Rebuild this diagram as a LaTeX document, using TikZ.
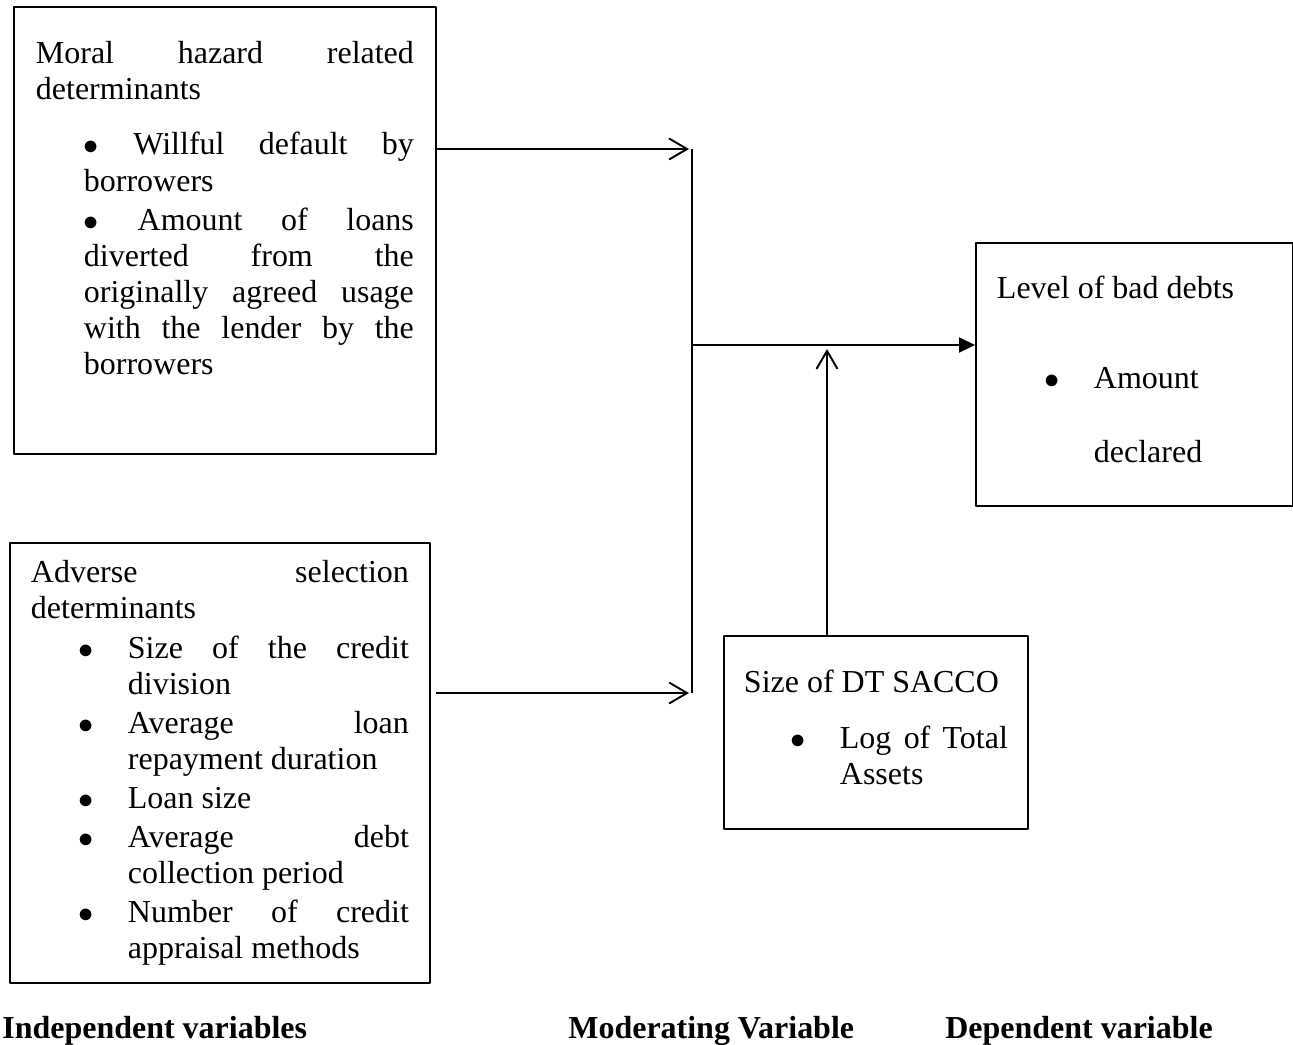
\documentclass[tikz,border=0pt]{standalone}
\usepackage{fontspec}
\setmainfont{Liberation Serif}
\usetikzlibrary{arrows.meta}

\newcommand{\dotmark}{$\bullet$}
\newcommand{\bul}{\leavevmode\llap{\dotmark\hspace{0.68cm}}}
\newcommand{\boxbody}[3]{\parbox[t][#2][t]{#1}{\tolerance=10000\hbadness=10000\hyphenpenalty=10000\parskip=0.06cm\relax #3}}

\begin{document}
\begin{tikzpicture}[x=0.02cm, y=-0.02cm, line join=round, font=\fontsize{18.2}{20.5}\selectfont,
	box/.style={draw, line width=1.1pt, anchor=north west, inner ysep=0pt, inner xsep=0.42cm},
	lab/.style={anchor=base west, inner sep=0pt, font=\fontsize{18.2}{20.5}\selectfont\bfseries},
	barb/.style={line width=1.1pt, -{Straight Barb[length=0.36cm, width=0.42cm]}},
	tri/.style={line width=1.1pt, -{Triangle[length=0.32cm, width=0.3cm]}}]
	\useasboundingbox (0,0) rectangle (1293,1044);
	
	% independent variables
	\node[box, inner xsep=0.44cm] (mh) at (13,6) {\boxbody{7.56cm}{8.94cm}{%
		\rule{0pt}{1.14cm}Moral hazard related\linebreak determinants\par
		\vspace{0.32cm}
		{\leftskip=0.96cm
		\dotmark\ Willful default by\linebreak borrowers\par
		\dotmark\ Amount of loans\linebreak diverted from the\linebreak originally agreed usage\linebreak with the lender by the\linebreak borrowers\par}}};
	
	\node[box] (ad) at (9,542) {\boxbody{7.56cm}{8.8cm}{%
		\rule{0pt}{0.8cm}Adverse selection\linebreak determinants\par
		{\leftskip=1.94cm
		\bul Size of the credit\linebreak division\par
		\bul Average loan\linebreak repayment duration\par
		\bul Loan size\par
		\bul Average debt\linebreak collection period\par
		\bul Number of credit\linebreak appraisal methods\par}}};
	
	% dependent and moderating variables
	\node[box] (lvl) at (975,242) {\boxbody{5.5cm}{5.26cm}{%
		\rule{0pt}{1.12cm}Level of bad debts\par
		\vspace{0.26cm}
		{\leftskip=1.94cm\baselineskip=1.48cm
		\bul Amount\newline declared\par}}};
	
	\node[box, inner xsep=0.4cm] (sz) at (723,635) {\boxbody{5.28cm}{3.86cm}{%
		\rule{0pt}{1.14cm}Size of DT SACCO\par
		\vspace{0.34cm}
		{\leftskip=1.92cm
		\bul Log of Total\linebreak Assets\par}}};
	
	\path
	(692,149) coordinate (jt)
	(692,345) coordinate (jm)
	(692,693) coordinate (jb)
	(827,349) coordinate (up);
	
	\draw[line width=1.1pt] (jt) -- (jb);
	\draw[barb, shorten >=0.06cm] (mh.east |- jt) -- (jt);
	\draw[barb, shorten <=0.1cm, shorten >=0.06cm] (ad.east |- jb) -- (jb);
	\draw[tri] (jm) -- (lvl.west |- jm);
	\draw[barb] (sz.north -| up) -- (up);
	
	\node[lab] (iv) at (2,1038) {Independent variables};
	\node[lab] (mv) at (568,1038) {Moderating Variable};
	\node[lab] (dv) at (945,1038) {Dependent variable};
\end{tikzpicture}
\end{document}
